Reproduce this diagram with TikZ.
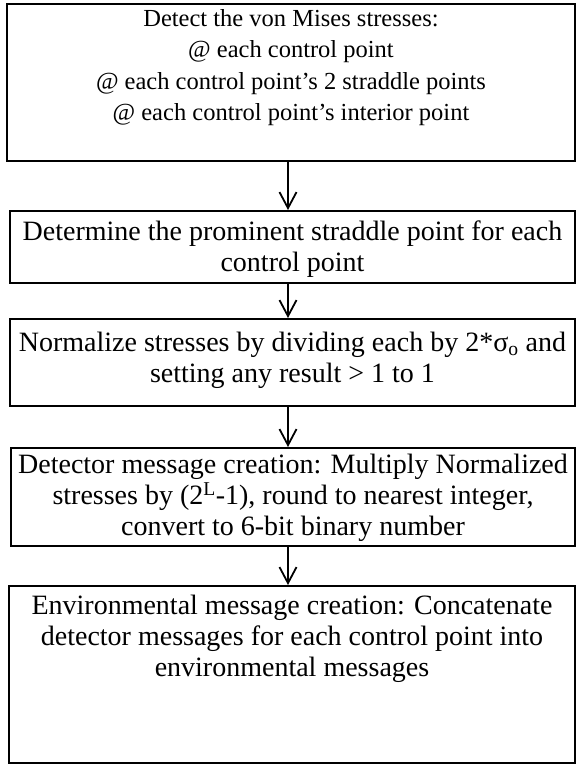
\documentclass[tikz,border=0pt]{standalone}
\usepackage{fontspec}
\setmainfont{Liberation Serif}
\usetikzlibrary{arrows.meta}

% text block of a step: fixed width and height, lines centred, set from the top
\newcommand\steptext[4]{\parbox[b][#2][t]{#1}{\centering\vspace*{#3}#4}}

\tikzset{
  stepbox/.style={draw=black, line width=2pt, rectangle, inner sep=0pt,
    anchor=north west, fill=white},
  flow/.style={draw=black, line width=1.8pt,
    -{Straight Barb[length=16pt,width=17pt,line width=1.8pt]}},
}

\begin{document}
\begin{tikzpicture}[x=1pt, y=-1pt]
\useasboundingbox (0,0) rectangle (576,764);
\fontsize{28}{31}\selectfont

\node[stepbox] (b1) at (6,3) {\steptext{568pt}{157pt}{5pt}{%
  \fontsize{24.5}{31.5}\selectfont
  Detect the von Mises stresses:\\
  @ each control point\\
  @ each control point’s 2 straddle points\\
  @ each control point’s interior point}};

\node[stepbox] (b2) at (9,210) {\steptext{565pt}{72pt}{10pt}{%
  Determine the prominent straddle point for each\\
  control point}};

\node[stepbox] (b3) at (9,318) {\steptext{565pt}{87pt}{13pt}{%
  Normalize stresses by dividing each by 2*σ\textsubscript{o} and\\
  setting any result > 1 to 1}};

\node[stepbox] (b4) at (10,447) {\steptext{564pt}{98pt}{6pt}{%
  Detector message creation: Multiply Normalized\\
  stresses by (2\textsuperscript{L}-1), round to nearest integer,\\
  convert to 6-bit binary number}};

\node[stepbox] (b5) at (8,585) {\steptext{566pt}{177pt}{9pt}{%
  Environmental message creation: Concatenate\\
  detector messages for each control point into\\
  environmental messages}};

\coordinate (axis) at (288,0);
\draw[flow] (b1.south -| axis) -- (b2.north -| axis);
\draw[flow] (b2.south -| axis) -- (b3.north -| axis);
\draw[flow] (b3.south -| axis) -- (b4.north -| axis);
\draw[flow] (b4.south -| axis) -- (b5.north -| axis);
\end{tikzpicture}
\end{document}
